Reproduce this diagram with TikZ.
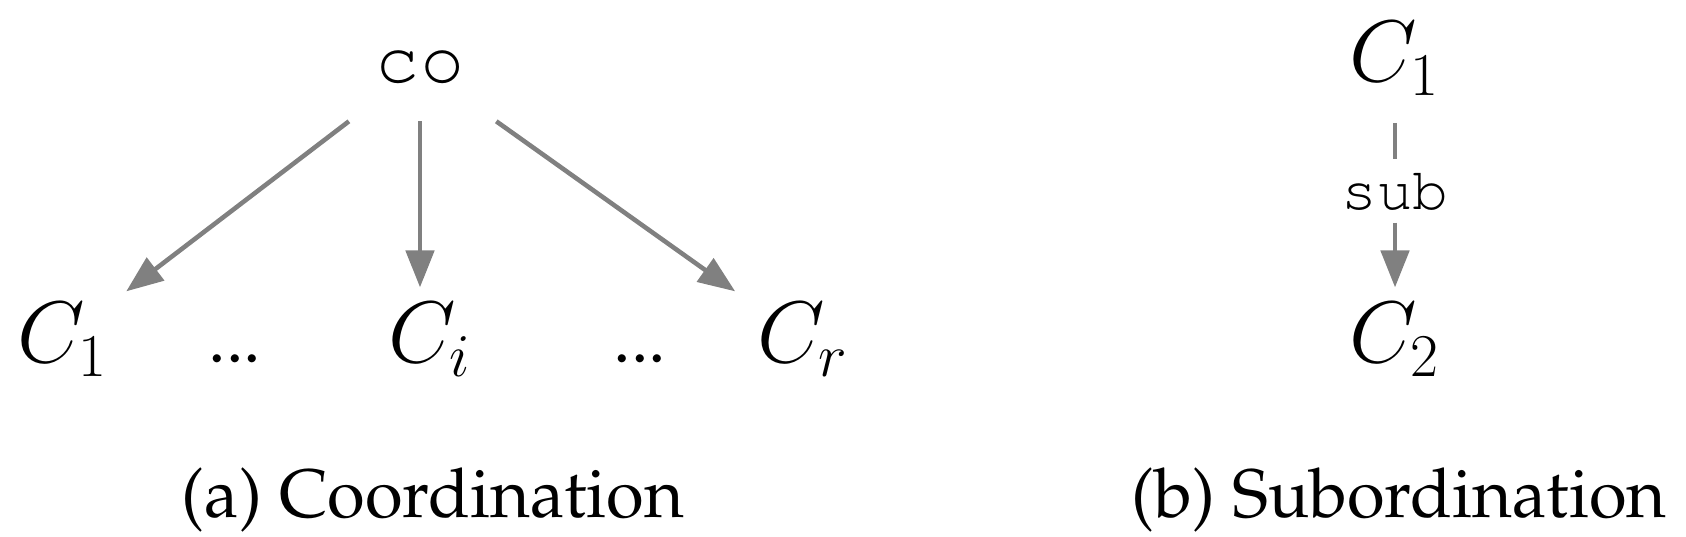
\documentclass[tikz,border=0pt]{standalone}
\usepackage[T1,TU]{fontenc}
\usetikzlibrary{arrows.meta}
\newcommand\palfont{\fontencoding{T1}\fontfamily{ppl}\selectfont}
\newcommand\courfont{\fontencoding{T1}\fontfamily{pcr}\selectfont}

\begin{document}
\begin{tikzpicture}[x=0.01cm,y=-0.01cm,line width=1.3pt,>={Triangle[length=10.5pt,width=8pt]},
  concept/.style={inner sep=0pt,minimum height=1cm,minimum width=1.5cm,anchor=base,font=\fontsize{24}{28}\selectfont},
  rel/.style={font=\fontsize{21}{24}\courfont},
  link/.style={draw=gray,line width=1.3pt},
  captext/.style={anchor=base,font=\palfont\fontsize{19.5}{22}\selectfont},
  ellip/.style={anchor=base,font=\palfont\fontsize{20}{22}\selectfont}]
  \useasboundingbox (0,0) rectangle (1686,537);
  % (a) coordination
  \node[rel,minimum height=1.04cm,minimum width=2cm] (co) at (420,67) {co};
  \node[concept,minimum height=0.92cm] (c1) at (63,363) {$C_1$};
  \node[ellip] (dl) at (235,363) {...};
  \node[concept] (ci) at (430,363) {$C_i$};
  \node[ellip] (dr) at (640,363) {...};
  \node[concept,minimum height=0.92cm] (cr) at (803,363) {$C_r$};
  \draw[link,->] (co) -- (c1);
  \draw[link,->] (co) -- (co |- ci.north);
  \draw[link,->] (co) -- (cr);
  \node[captext] (capa) at (433,517) {(a) Coordination};
  % (b) subordination
  \node[concept] (s1) at (1395,82) {$C_1$};
  \node[rel,font=\fontsize{17}{20}\courfont,inner sep=2.8pt] (sub) at (1395,191) {sub};
  \node[concept] (s2) at (1395,363) {$C_2$};
  \draw[link,shorten <=0.12cm] (s1) -- (sub);
  \draw[link,->] (sub) -- (s2);
  \node[captext] (capb) at (1399,517) {(b) Subordination};
\end{tikzpicture}
\end{document}
